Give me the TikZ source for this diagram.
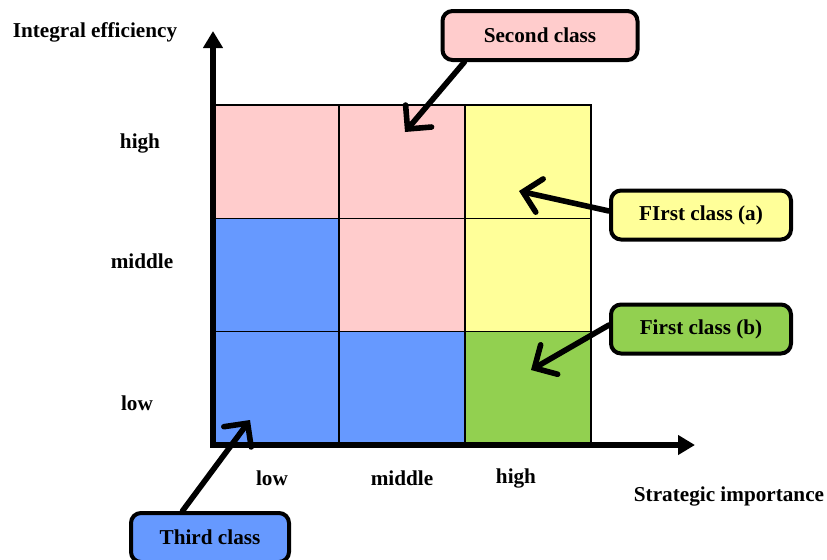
\documentclass[tikz,border=0pt]{standalone}
\usepackage{fontspec}
\setmainfont{Liberation Serif}
\usepackage{tikz}
\usetikzlibrary{calc}
\usetikzlibrary{arrows.meta}
\definecolor{pinkcell}{HTML}{FFCCCC}
\definecolor{yellowcell}{HTML}{FFFF99}
\definecolor{bluecell}{HTML}{6699FF}
\definecolor{greencell}{HTML}{92D050}
\tikzset{
    every node/.style={font=\fontsize{10.6}{12}\selectfont\bfseries},
    cell/.style={draw, line width=0.8pt, minimum width=63pt, minimum height=56.67pt, inner sep=0pt, outer sep=0pt},
    classbox/.style={draw, line width=2pt, rounded corners=5pt, minimum height=24.5pt},
    axisline/.style={line width=3pt, {Triangle[length=8.5pt,width=9.5pt]}-{Triangle[length=8.5pt,width=9.5pt]}},
    pointer/.style={line width=2.8pt, line cap=round, -{Straight Barb[length=8.5pt,width=17pt,line cap=round]}}
}

\begin{document}
\begin{tikzpicture}[x=0.5pt, y=-0.5pt]
        \useasboundingbox (0, 0) rectangle (827, 559);

        \node [cell, fill=pinkcell] (c13) at (276, 161.67) {};
        \node [cell, fill=pinkcell] (c23) at (402, 161.67) {};
        \node [cell, fill=yellowcell] (c33) at (528, 161.67) {};
        \node [cell, fill=bluecell] (c12) at (276, 275) {};
        \node [cell, fill=pinkcell] (c22) at (402, 275) {};
        \node [cell, fill=yellowcell] (c32) at (528, 275) {};
        \node [cell, fill=bluecell] (c11) at (276, 388.33) {};
        \node [cell, fill=bluecell] (c21) at (402, 388.33) {};
        \node [cell, fill=greencell] (c31) at (528, 388.33) {};

        \coordinate (O) at (213, 445);
        \coordinate (ytop) at (213, 31);
        \coordinate (xend) at (695, 445);
        \draw [axisline] (ytop) -- (O) -- (xend);

        \node (ylabel) at (95, 32) {Integral efficiency};
        \node (xlabel) at (729, 496) {Strategic importance};

        \node (yhigh) at (140, 143) {high};
        \node (ymiddle) at (142, 261) {middle};
        \node (ylow) at (137, 403) {low};
        \node (xlow) at (272, 478) {low};
        \node (xmiddle) at (402, 478) {middle};
        \node (xhigh) at (516, 478) {high};

        \node [classbox, fill=pinkcell, minimum width=97.5pt] (second) at (540, 35.5) {Second class};
        \node [classbox, fill=yellowcell, minimum width=90pt] (firsta) at (701, 215) {FIrst class (a)};
        \node [classbox, fill=greencell, minimum width=90pt] (firstb) at (701, 329) {First class (b)};
        \node [classbox, fill=bluecell, minimum width=79pt] (third) at (210, 537.5) {Third class};

        \coordinate (secondtip) at (405, 132);
        \coordinate (firstatip) at (519, 191);
        \coordinate (firstbtip) at (531, 370);
        \coordinate (thirdtip) at (250, 420);

        \draw [pointer] ($(second.south west)!0.12!(second.south east)$) -- (secondtip);
        \draw [pointer] ([yshift=2pt]firsta.west) -- (firstatip);
        \draw [pointer] ([yshift=2pt]firstb.west) -- (firstbtip);
        \draw [pointer] ($(third.north west)!0.33!(third.north east)$) -- (thirdtip);
    \end{tikzpicture}
\end{document}
